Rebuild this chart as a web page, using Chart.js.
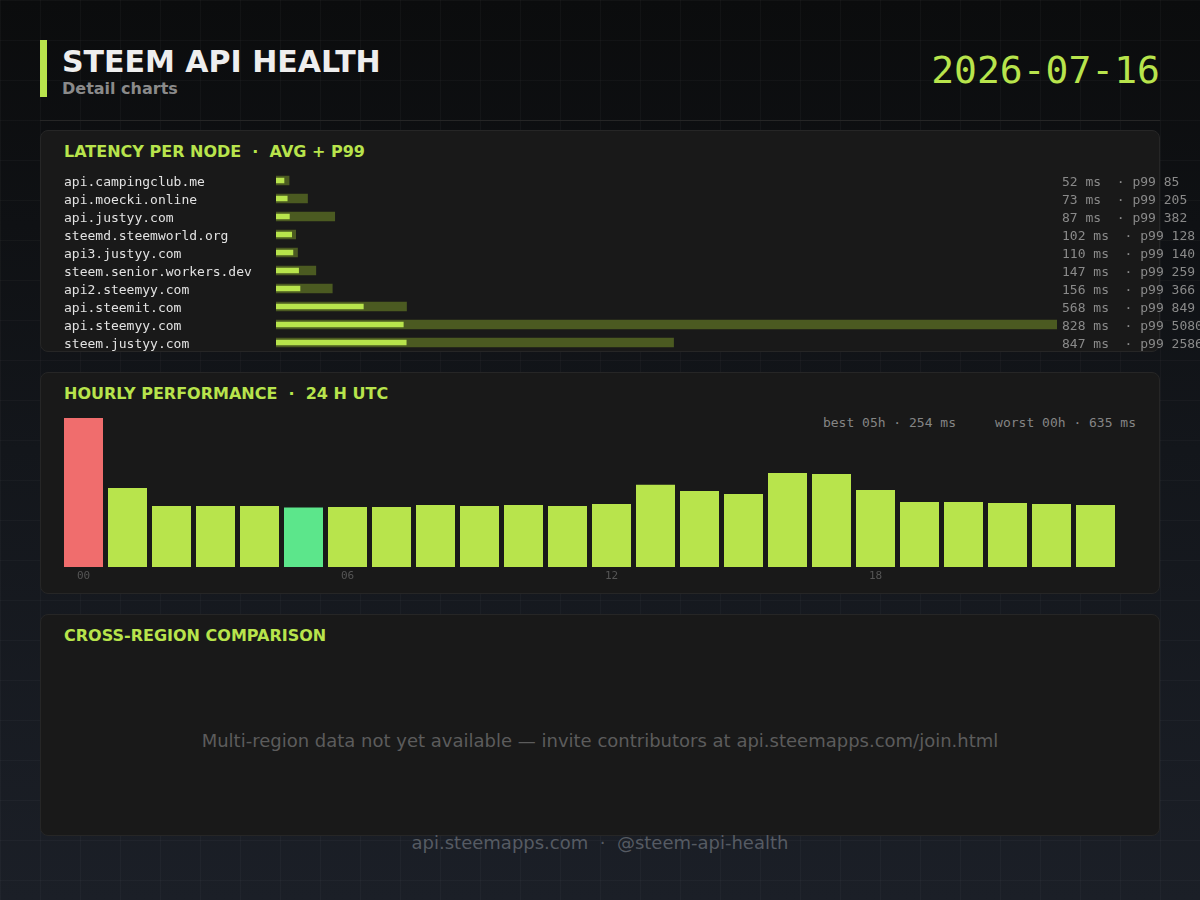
<!DOCTYPE html>
<html>
<head>
<meta charset="utf-8">
<title>Steem API Health</title>
<script src="https://cdn.jsdelivr.net/npm/chart.js@4.4.1/dist/chart.umd.min.js"></script>
<style>
  html, body { margin: 0; padding: 0; }
  body {
    width: 1200px; height: 900px; position: relative; overflow: hidden;
    font-family: "DejaVu Sans", sans-serif;
    background:
      linear-gradient(rgba(255,255,255,0.028) 1px, transparent 1px) 0 0 / 40px 40px,
      linear-gradient(90deg, rgba(255,255,255,0.028) 1px, transparent 1px) 0 0 / 40px 40px,
      linear-gradient(180deg, #0b0c0d 0%, #13161b 50%, #1b1f27 100%);
  }
  .abs { position: absolute; white-space: pre; line-height: 1; }
  .barra { position: absolute; left: 40px; top: 40px; width: 7px; height: 57px; background: #b8e44c; }
  .titulo { left: 62px; top: 46.6px; font-size: 30px; font-weight: bold; color: #eeeeee; }
  .subtitulo { left: 62px; top: 81.2px; font-size: 16px; font-weight: bold; color: #8a8a8a; }
  .fecha { right: 40px; top: 51px; font-size: 38px; font-family: "DejaVu Sans Mono", monospace; color: #b8e44c; }
  .divisor { position: absolute; left: 40px; top: 120px; width: 1120px; height: 1px; background: #262626; }
  .panel { position: absolute; left: 40px; width: 1118px; height: 220px; background: #191919; border: 1px solid #262626; border-radius: 8px; }
  .tituloPanel { left: 64px; font-size: 16px; font-weight: bold; color: #b8e44c; }
  .info { right: 64px; top: 416px; font-size: 13px; font-family: "DejaVu Sans Mono", monospace; color: #858585; }
  .vacio { left: 40px; width: 1120px; text-align: center; top: 732.1px; font-size: 18px; color: #5c5c5c; }
  .pie { left: 0; width: 1200px; text-align: center; top: 833.8px; font-size: 18px; color: #565b63; }
  canvas { position: absolute; }
</style>
</head>
<body>

<div class="barra"></div>
<div class="abs titulo">STEEM API HEALTH</div>
<div class="abs subtitulo">Detail charts</div>
<div class="abs fecha">2026-07-16</div>
<div class="divisor"></div>

<div class="panel" style="top:130px"></div>
<div class="panel" style="top:372px"></div>
<div class="panel" style="top:614px"></div>

<div class="abs tituloPanel" style="top:143.5px">LATENCY PER NODE  ·  AVG + P99</div>
<div class="abs tituloPanel" style="top:385.5px">HOURLY PERFORMANCE  ·  24 H UTC</div>
<div class="abs tituloPanel" style="top:627.5px">CROSS-REGION COMPARISON</div>

<div class="abs info" id="infoHoras"></div>
<div class="abs vacio">Multi-region data not yet available — invite contributors at api.steemapps.com/join.html</div>
<div class="abs pie">api.steemapps.com  ·  @steem-api-health</div>

<canvas id="graficoNodos" width="1136" height="207" style="left:64px; top:158px; width:1136px; height:207px;"></canvas>
<canvas id="graficoHoras" width="1070" height="180" style="left:60px; top:410px; width:1070px; height:180px;"></canvas>

<script>
// datos
var nodos = ['api.campingclub.me', 'api.moecki.online', 'api.justyy.com', 'steemd.steemworld.org',
  'api3.justyy.com', 'steem.senior.workers.dev', 'api2.steemyy.com', 'api.steemit.com',
  'api.steemyy.com', 'steem.justyy.com'];
var promedioMs = [52, 73, 87, 102, 110, 147, 156, 568, 828, 847];
var p99Ms = [85, 205, 382, 128, 140, 259, 366, 849, 5080, 2586];

var horas = ['00', '01', '02', '03', '04', '05', '06', '07', '08', '09', '10', '11',
  '12', '13', '14', '15', '16', '17', '18', '19', '20', '21', '22', '23'];
var latenciaHoraMs = [635, 337, 260, 260, 260, 254, 256, 256, 264, 260, 264, 260,
  268, 350, 324, 311, 401, 396, 328, 277, 277, 273, 268, 264];
var horasConEtiqueta = ['00', '06', '12', '18'];

var verde = '#b8e44c';
var oliva = '#4b5a21';
var rojo = '#f06d6d';
var verdeMejor = '#5ce68b';
var fuenteMono = '"DejaVu Sans Mono", monospace';

Chart.defaults.animation = false;
Chart.defaults.font.family = fuenteMono;

// etiqueta de dos lineas (la primera vacia) para bajar el texto ~2px respecto a la barra
var fuenteFila = { family: fuenteMono, size: 13, lineHeight: 5 / 13 };

function generarGraficoNodos () {
    var lienzo = document.getElementById('graficoNodos');

    new Chart(lienzo, {
        type: 'bar',
        data: {
            labels: nodos,
            datasets: [{
                label: 'avg',
                data: promedioMs,
                backgroundColor: verde,
                barThickness: 5,
                order: 0
            }, {
                label: 'p99',
                data: p99Ms,
                backgroundColor: oliva,
                barThickness: 9,
                order: 1
            }]
        },
        options: {
            indexAxis: 'y',
            responsive: false,
            grouped: false,
            // el area queda de 180px: 18px por fila
            layout: { padding: { top: 13.5, bottom: 13.5, left: 0, right: 0 } },
            plugins: { legend: { display: false }, tooltip: { enabled: false } },
            scales: {
                x: { type: 'linear', min: 0, max: Math.max.apply(null, p99Ms), display: false },
                y: {
                    type: 'category',
                    position: 'left',
                    grid: { display: false, drawTicks: false },
                    border: { display: false },
                    ticks: {
                        autoSkip: false, crossAlign: 'far', padding: 0,
                        color: '#e2e2e2', font: fuenteFila,
                        callback: function (valor, i) { return ['', nodos[i]]; }
                    },
                    afterFit: function (escala) { escala.width = 212; }
                },
                y2: {
                    type: 'category',
                    position: 'right',
                    grid: { display: false, drawTicks: false },
                    border: { display: false },
                    ticks: {
                        autoSkip: false, crossAlign: 'near', padding: 5,
                        color: '#8a8a8a', font: fuenteFila,
                        callback: function (valor, i) {
                            return ['', promedioMs[i] + ' ms  · p99 ' + p99Ms[i]];
                        }
                    },
                    afterFit: function (escala) { escala.width = 143; }
                }
            }
        }
    });
}

function generarGraficoHoras () {
    var lienzo = document.getElementById('graficoHoras');
    var peor = Math.max.apply(null, latenciaHoraMs);
    var mejor = Math.min.apply(null, latenciaHoraMs);
    var iPeor = latenciaHoraMs.indexOf(peor);
    var iMejor = latenciaHoraMs.indexOf(mejor);

    document.getElementById('infoHoras').textContent =
        'best ' + horas[iMejor] + 'h · ' + mejor + ' ms     worst ' + horas[iPeor] + 'h · ' + peor + ' ms';

    var colores = latenciaHoraMs.map(function (v, i) {
        if (i == iPeor) return rojo;
        if (i == iMejor) return verdeMejor;
        return verde;
    });

    new Chart(lienzo, {
        type: 'bar',
        data: {
            labels: horas,
            datasets: [{
                data: latenciaHoraMs,
                backgroundColor: colores,
                categoryPercentage: 1,
                barPercentage: 39 / 44
            }]
        },
        options: {
            responsive: false,
            layout: { padding: { top: 8, bottom: 3, left: 1.5, right: 12.5 } },
            plugins: { legend: { display: false }, tooltip: { enabled: false } },
            scales: {
                y: { min: 0, max: peor, display: false },
                x: {
                    grid: { display: false, drawTicks: false },
                    border: { display: false },
                    ticks: {
                        autoSkip: false, maxRotation: 0, padding: 3,
                        color: '#555555', font: { family: fuenteMono, size: 11 },
                        callback: function (valor, i) {
                            return horasConEtiqueta.indexOf(horas[i]) >= 0 ? horas[i] : '';
                        }
                    },
                    afterFit: function (escala) { escala.height = 20; }
                }
            }
        }
    });
}

generarGraficoNodos();
generarGraficoHoras();
</script>
</body>
</html>
